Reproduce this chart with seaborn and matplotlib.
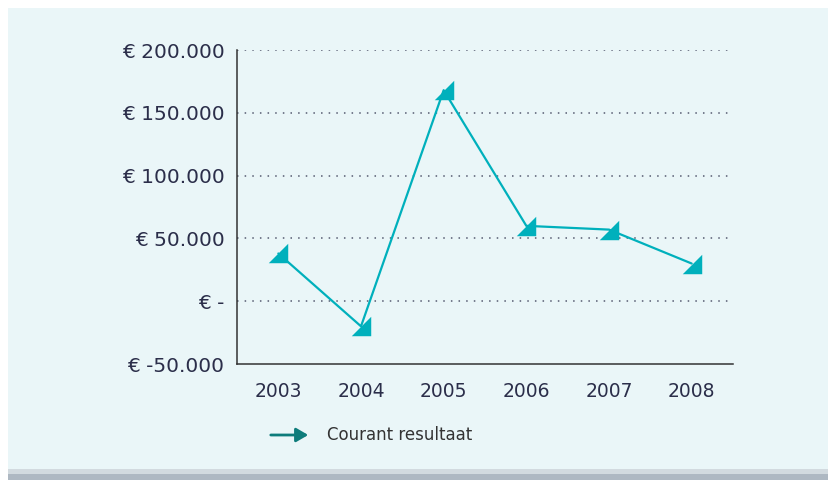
import pandas as pd
import seaborn as sns
import matplotlib.pyplot as plt
from matplotlib.patches import Rectangle

# Data
years = ['2003', '2004', '2005', '2006', '2007', '2008']
courant_resultaat = [38000, -20000, 168000, 60000, 57000, 30000]
y_ticks = [-50000, 0, 50000, 100000, 150000, 200000]
y_labels = ['€ -50.000', '€ -', '€ 50.000', '€ 100.000', '€ 150.000', '€ 200.000']

data = pd.DataFrame({'Jaar': years, 'Courant resultaat': courant_resultaat})

sns.set_theme(style='white')
plt.rcParams['font.family'] = ['DejaVu Sans']

fig = plt.figure(figsize=(8.35, 4.8), dpi=100)
fig.patch.set_facecolor('white')

# background panel with a soft shadow at the bottom
fig.patches.append(Rectangle((8 / 835, 0), 820 / 835, 12 / 480, transform=fig.transFigure,
                             facecolor='#AEB8C2', edgecolor='none', zorder=-3))
fig.patches.append(Rectangle((8 / 835, 6 / 480), 820 / 835, 6 / 480, transform=fig.transFigure,
                             facecolor='#D2DADF', edgecolor='none', zorder=-2))
fig.patches.append(Rectangle((8 / 835, 11 / 480), 820 / 835, 461 / 480, transform=fig.transFigure,
                             facecolor='#EAF6F8', edgecolor='none', zorder=-1))

ax = fig.add_axes([237 / 835, 116 / 480, 496 / 835, 314 / 480])
ax.set_facecolor('none')

triangle = [(-1, -1), (1, 1), (1, -1), (-1, -1)]
sns.lineplot(data=data, x='Jaar', y='Courant resultaat', ax=ax, color='#00B0BC',
             linewidth=1.6, marker=triangle, markersize=14, markeredgewidth=0, sort=False)

ax.set_xlim(-0.5, 5.5)
ax.set_ylim(-50000, 200000)
ax.set_yticks(y_ticks)
ax.set_yticklabels(y_labels)
ax.set_xlabel('')
ax.set_ylabel('')

for y in y_ticks[1:]:
    ax.axhline(y, color='#555a70', linestyle=(0, (1, 4)), linewidth=1.1, zorder=0)

for side in ['top', 'right']:
    ax.spines[side].set_visible(False)
ax.spines['left'].set_color('#333333')
ax.spines['bottom'].set_color('#333333')
ax.spines['left'].set_linewidth(1.1)
ax.spines['bottom'].set_linewidth(1.1)

ax.tick_params(axis='y', length=0, pad=9, labelsize=14.5, labelcolor='#2B2E4A')
ax.tick_params(axis='x', length=0, pad=13, labelsize=13.5, labelcolor='#2B2E4A')

# legend drawn by hand: arrow with label
ax.annotate('', xy=(311 / 835, 1 - 435 / 480), xytext=(268 / 835, 1 - 435 / 480),
            xycoords='figure fraction', textcoords='figure fraction',
            arrowprops=dict(arrowstyle='-|>,head_length=0.6,head_width=0.35',
                            color='#0E7C7B', lw=2))
fig.text(327 / 835, 1 - 435 / 480, 'Courant resultaat', fontsize=12, color='#333333',
         va='center', ha='left')

plt.savefig('out.png', dpi=100, facecolor=fig.get_facecolor())
